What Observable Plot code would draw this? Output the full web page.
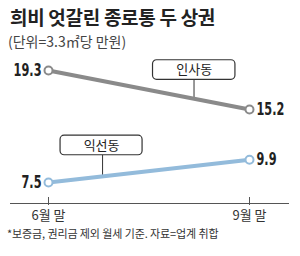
<!DOCTYPE html>
<html><head><meta charset="utf-8">
<script src="https://cdn.jsdelivr.net/npm/d3@7"></script>
<script src="https://cdn.jsdelivr.net/npm/@observablehq/plot@0.6"></script>
<style>
html,body{margin:0;padding:0;background:#fff;width:300px;height:256px;overflow:hidden}
#wrap{position:relative;width:300px;height:256px;font-family:"Noto Sans CJK KR","Noto Sans",sans-serif;color:#222}
#head{position:relative;height:50px}
#title{position:absolute;left:10px;top:6px;font-size:19px;line-height:22px;font-weight:700;letter-spacing:-0.3px;color:#222}
#sub{position:absolute;left:8px;top:33px;font-size:14px;line-height:16px;color:#444;letter-spacing:0}
#chart{height:176px}
#chart svg{display:block;overflow:visible}
#foot{font-size:11px;line-height:14px;padding-left:7px;color:#333;letter-spacing:-0.1px}
</style></head>
<body><div id="wrap">
<div id="head"><div id="title"></div><div id="sub"></div></div>
<div id="chart"></div>
<div id="foot"></div>
</div>
<script>
const titleText = "희비 엇갈린 종로통 두 상권";
const subtitleText = "(단위=3.3㎡당 만원)";
const footText = "*보증금, 권리금 제외 월세 기준. 자료=업계 취합";
const periods = ["6월 말", "9월 말"];
const seriesNames = ["인사동", "익선동"];
const insadong = [19.3, 15.2];
const ikseondong = [7.5, 9.9];
const seriesColors = ["#8a8a8a", "#93bbdb"];

document.getElementById("title").textContent = titleText;
document.getElementById("sub").textContent = subtitleText;
document.getElementById("foot").textContent = footText;

const series = [insadong, ikseondong];
const rows = [];
series.forEach((vals, s) => vals.forEach((v, i) => rows.push({name: seriesNames[s], i, v, color: seriesColors[s]})));

// legend box annotations (data units: x fraction between periods, y value)
const boxes = [
  {name: seriesNames[0], x1: 0.52, x2: 0.93, yc: 19.35, at: 0.724},
  {name: seriesNames[1], x1: 0.06, x2: 0.468, yc: 11.4, at: 0.269}
];
const halfH = 1.03;
const connectors = boxes.map((b, s) => {
  const vals = series[s];
  return {x: b.at, y1: b.yc - halfH, y2: vals[0] + (vals[1] - vals[0]) * b.at};
});

const numFont = '"Liberation Sans Narrow","DejaVu Sans Condensed","Liberation Sans",sans-serif';
const fmt = d3.format(".1f");

const chart = Plot.plot({
  width: 300,
  height: 176,
  marginTop: 0,
  marginLeft: 10,
  marginRight: 12,
  marginBottom: 23,
  style: {fontFamily: '"Noto Sans CJK KR","Noto Sans",sans-serif', background: "#fff", color: "#333"},
  x: {domain: [0, 1], range: [48, 249]},
  y: {domain: [7.5, 19.3], range: [132, 20], axis: null},
  marks: [
    Plot.frame({anchor: "bottom", stroke: "#555", strokeWidth: 1}),
    Plot.ruleX([0, 1], {x: d => d, stroke: "#555", strokeWidth: 1, insetTop: 147, insetBottom: -2}),
    Plot.axisX({ticks: [0, 1], tickFormat: i => periods[i], tickSize: 0, tickPadding: 7, fontSize: 13, fill: "#333"}),
    Plot.ruleX(connectors, {x: "x", y1: "y1", y2: "y2", stroke: "#333", strokeWidth: 1}),
    Plot.line(rows, {x: "i", y: "v", z: "name", stroke: "color", strokeWidth: 4}),
    Plot.dot(rows, {x: "i", y: "v", r: 4, fill: "#fff", stroke: "color", strokeWidth: 2}),
    Plot.text(rows.filter(d => d.i === 0), {x: "i", y: "v", text: d => fmt(d.v), textAnchor: "end", dx: -7, fontSize: 17, fontWeight: "bold", fontFamily: numFont, fill: "#222"}),
    Plot.text(rows.filter(d => d.i === 1), {x: "i", y: "v", text: d => fmt(d.v), textAnchor: "start", dx: 7, fontSize: 17, fontWeight: "bold", fontFamily: numFont, fill: "#222"}),
    Plot.rect(boxes, {x1: "x1", x2: "x2", y1: d => d.yc - halfH, y2: d => d.yc + halfH, fill: "#fff", stroke: "#333", strokeWidth: 1.2, rx: 4}),
    Plot.text(boxes, {x: d => (d.x1 + d.x2) / 2, y: "yc", text: "name", fontSize: 13, fill: "#222"})
  ]
});
document.getElementById("chart").appendChild(chart);
// condense the numeric value labels
d3.select(chart).selectAll("text").each(function() {
  if (/^\d+\.\d$/.test(this.textContent)) {
    const w = this.getComputedTextLength();
    this.setAttribute("textLength", (w * 0.74).toFixed(1));
    this.setAttribute("lengthAdjust", "spacingAndGlyphs");
  }
});
</script>
</body></html>
